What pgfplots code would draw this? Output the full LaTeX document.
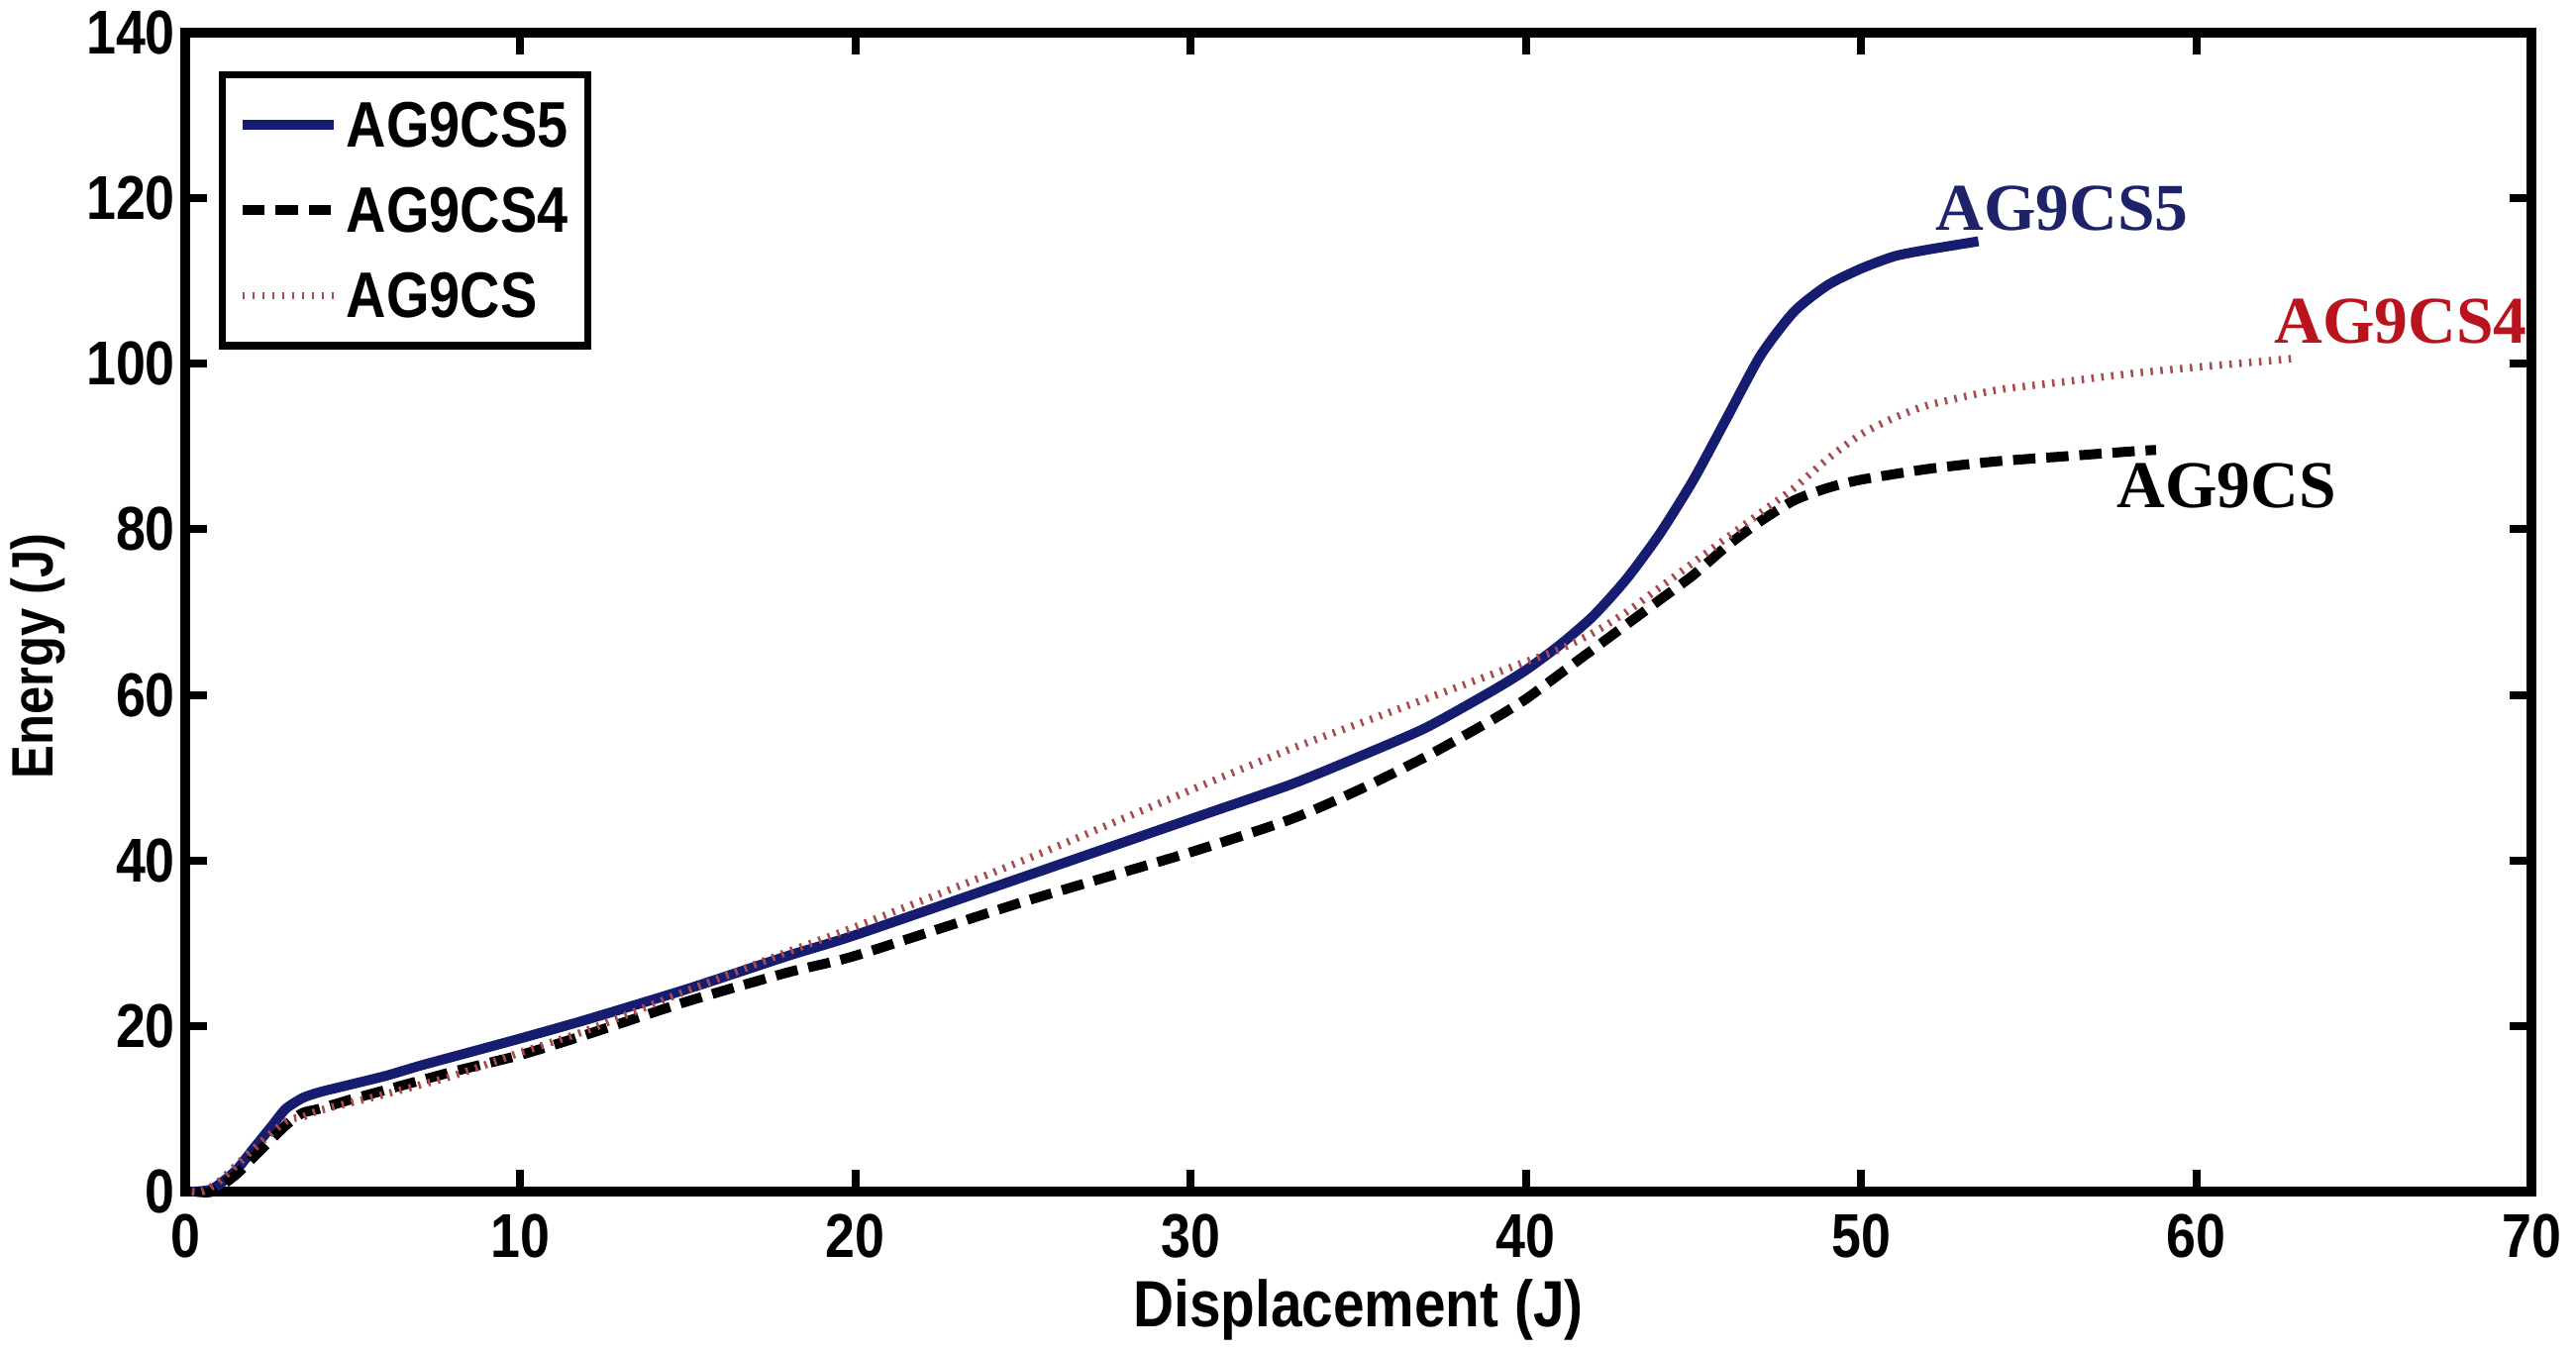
\documentclass[border=0pt]{standalone}
\usepackage{fontspec}
\setmainfont[FakeStretch=0.86]{Liberation Sans}
\newfontfamily\serifbf[BoldFont=*]{Liberation Serif Bold}
\usepackage{pgfplots}
\pgfplotsset{compat=1.18}
\definecolor{cnavy}{RGB}{22,28,112}
\definecolor{cnavytxt}{RGB}{30,35,105}
\definecolor{credtxt}{RGB}{185,20,30}
\definecolor{cdot}{RGB}{170,75,75}
\begin{document}
\begin{tikzpicture}
\begin{axis}[
  name=ax,
  width=473.8pt, height=234pt,
  scale only axis=true,
  xmin=0, xmax=70, ymin=0, ymax=140,
  xtick={0,10,...,70}, ytick={0,20,...,140},
  tick align=inside,
  major tick length=4.4pt,
  every tick/.style={line width=1.6pt, black},
  axis line style={line width=1.9pt},
  /pgf/number format/assume math mode=true,
  ticklabel style={font=\fontsize{12.5}{15}\selectfont\bfseries},
  xticklabel style={yshift=-1pt},
  yticklabel style={xshift=1.5pt},
  xlabel={Displacement (J)},
  ylabel={Energy (J)},
  xlabel style={font=\fontsize{13.2}{15}\selectfont\bfseries, at={(axis description cs:0.5,-0.117)}, anchor=base},
  ylabel style={font=\fontsize{11.8}{14}\selectfont\bfseries, at={(axis description cs:-0.0629,0.462)}, anchor=center, rotate=0},
  legend style={at={(axis description cs:0,1)}, anchor=north west,
    xshift=6.8pt, yshift=-7.8pt, draw=black, line width=1.5pt,
    inner xsep=3pt, inner ysep=1.5pt,
    font=\fontsize{13}{15}\selectfont\bfseries,
    nodes={inner xsep=1pt, text height=9.5pt, text depth=0.5pt, inner ysep=3.6pt},
    column sep=0.6pt},
  legend cell align=left,
  legend image code/.code={\draw[#1] (0pt,0pt) -- (18.4pt,0pt);},
  clip=false,
]
\addplot[cnavy, line width=2pt, line join=round, smooth, tension=0.4] coordinates {
(0.2,0) (0.8,0.3) (1.5,2.5) (2,5) (2.6,8) (3,10) (3.5,11.3) (4,12) (5,13) (6,14)
(7,15.2) (8,16.3) (10,18.5) (12,20.8) (15,24.5) (18,28.5) (20,31) (25,38)
(30,45) (33,49.2) (35,52.5) (37,56) (39,60.5) (40,63) (41,66) (42,69.5)
(43,74) (44,79.5) (45,86) (46,93.5) (47,101) (48,106.3) (49,109.5)
(50,111.5) (51,113) (52,113.8) (53.5,114.8)
};
\addlegendentry{AG9CS5}
\addplot[black, line width=2pt, dash pattern=on 4.5pt off 2.2pt, smooth, tension=0.4] coordinates {
(0.3,0) (0.8,0) (1.5,2) (2,4) (3,8) (3.5,9.5) (4,10) (5,11.2) (6,12.3) (8,14.5)
(10,16.5) (12,19) (15,23) (18,26.5) (20,28.5) (25,35) (30,41) (33,45)
(35,48.5) (37,52.5) (39,57) (40,59.5) (41,62.5) (42,65.5) (43,68.5)
(44,71.5) (45,74.5) (46,78) (47,81) (48,83.5) (49,85) (50,86) (52,87.3)
(54,88.2) (56,88.8) (58,89.4) (58.8,89.6)
};
\addlegendentry{AG9CS4}
\addplot[cdot, line width=1.5pt, dash pattern=on 0.5pt off 1.5pt, smooth, tension=0.4] coordinates {
(0.2,0) (0.5,0) (1,1.2) (2,5) (3,8.5) (3.5,9) (4,9.8) (5,10.8) (6,11.8) (8,14)
(10,16.8) (12,19.5) (15,24.3) (18,29) (20,32) (25,40) (30,48.5) (33,53.5)
(35,56.5) (37,59.5) (39,62.5) (40,64) (41,65.5) (42,67.5) (43,70) (44,73)
(45,76) (46,79) (47,82) (48,85) (49,88.5) (50,91.5) (51,93.5) (52,95)
(54,96.8) (56,97.8) (58,98.8) (60,99.6) (62,100.3) (63,100.7)
};
\addlegendentry{AG9CS}
\node[text=cnavytxt, font=\fontsize{13.5}{16}\selectfont\serifbf] at (axis cs:56,118.8) {AG9CS5};
\node[text=credtxt, font=\fontsize{13.5}{16}\selectfont\serifbf] at (axis cs:66.1,105.1) {AG9CS4};
\node[text=black, font=\fontsize{13.5}{16}\selectfont\serifbf] at (axis cs:60.9,85.2) {AG9CS};
\end{axis}
\pgfresetboundingbox
\path[use as bounding box] ([xshift=-37.4pt,yshift=-32.8pt]ax.south west) rectangle ([xshift=9pt,yshift=6.6pt]ax.north east);
\end{tikzpicture}
\end{document}
